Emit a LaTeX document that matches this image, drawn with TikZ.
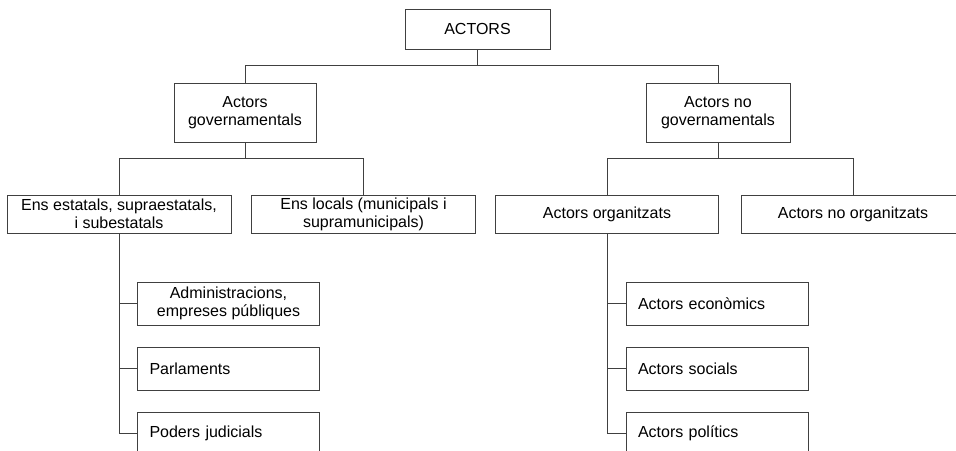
\documentclass[tikz,border=0pt]{standalone}
\usepackage{fontspec}
\setmainfont{Liberation Sans}
\usetikzlibrary{calc}
\begin{document}
\begin{tikzpicture}[x=1pt,y=-1pt,
  every node/.style={font=\fontsize{16}{18}\selectfont},
  box/.style={draw=black!75,line width=1pt,rectangle,inner sep=0pt,align=center,text=black},
  lbox/.style={box,align=left,inner xsep=12pt,text width=158pt,minimum height=43pt},
  conn/.style={draw=black!75,line width=1pt}]
\path[use as bounding box,clip] (0,0) rectangle (956,450);
\fill[white] (0,0) rectangle (956,450);
% level 0
\node[box,minimum width=145pt,minimum height=40pt] (actors) at (477.5,29) {ACTORS};
% level 1
\node[box,minimum width=142pt,minimum height=59pt] (gov) at (245,112.5) {Actors\\governamentals};
\node[box,minimum width=144pt,minimum height=59pt] (ngov) at (718,112.5) {Actors no\\governamentals};
% level 2
\node[box,minimum width=224pt,minimum height=38pt] (ens) at (119,214) {Ens estatals, supraestatals,\\i subestatals};
\node[box,minimum width=224pt,minimum height=38pt] (loc) at (363.5,214) {Ens locals (municipals i\\supramunicipals)};
\node[box,minimum width=223pt,minimum height=38pt] (org) at (607,214) {Actors organitzats};
\node[box,minimum width=224pt,minimum height=38pt] (norg) at (853,214) {Actors no organitzats};
% level 3 left
\node[box,minimum width=182pt,minimum height=43pt] (adm) at (228.5,303.5) {Administracions,\\empreses públiques};
\node[lbox] (parl) at (228.5,368.5) {Parlaments};
\node[lbox] (pod) at (228.5,433.5) {Poders judicials};
% level 3 right
\node[lbox] (eco) at (717,303.5) {Actors econòmics};
\node[lbox] (soc) at (717,368.5) {Actors socials};
\node[lbox] (pol) at (717,433.5) {Actors polítics};
% connectors
\coordinate (j1) at ($(actors.south)+(0,16)$);
\coordinate (j2) at ($(gov.south)+(0,16)$);
\coordinate (j3) at ($(ngov.south)+(0,16)$);
\draw[conn] (actors.south) -- (j1);
\draw[conn] (gov.north) |- (j1) -| (ngov.north);
\draw[conn] (gov.south) -- (j2);
\draw[conn] (ens.north) |- (j2) -| (loc.north);
\draw[conn] (ngov.south) -- (j3);
\draw[conn] (org.north) |- (j3) -| (norg.north);
\draw[conn] (ens.south) |- (adm.west);
\draw[conn] (ens.south) |- (parl.west);
\draw[conn] (ens.south) |- (pod.west);
\draw[conn] (org.south) |- (eco.west);
\draw[conn] (org.south) |- (soc.west);
\draw[conn] (org.south) |- (pol.west);
\end{tikzpicture}
\end{document}
